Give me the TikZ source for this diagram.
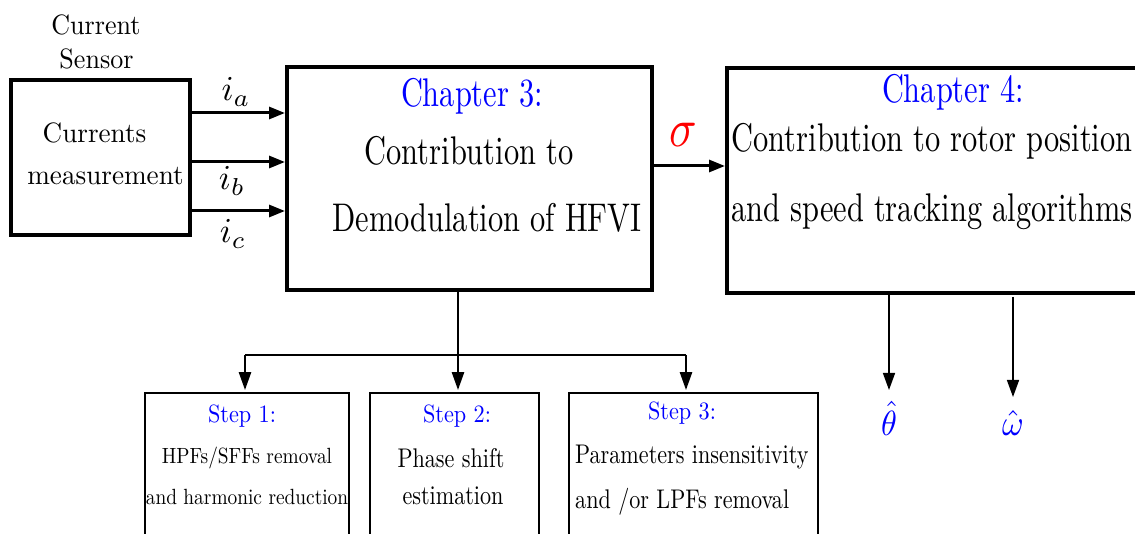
\documentclass[tikz,border=0pt]{standalone}
\usepackage{graphicx}
\usetikzlibrary{arrows.meta}
\newcommand\sz[3]{\scalebox{\fpeval{#1/10*#2}}[\fpeval{#1/10}]{#3}}
\newcommand\mth[3]{\scalebox{#1}[#2]{$#3$}}
\tikzset{
  bigbox/.style={draw, line width=4pt, inner sep=0pt},
  stepbox/.style={draw, line width=2.8pt, inner sep=0pt},
  lbl/.style={anchor=base, inner sep=0pt},
  arrA/.style={line width=3pt, -{Triangle[length=16pt,width=12pt]}},
  arrB/.style={line width=2.5pt, -{Triangle[length=18pt,width=12pt]}},
  arrC/.style={line width=1.5pt, -{Triangle[length=17pt,width=12pt]}},
  lineB/.style={line width=2.5pt}
}
\begin{document}
\begin{tikzpicture}[x=1pt,y=-1pt]
\useasboundingbox (0,0) rectangle (1135,534);
% boxes
\node[bigbox, minimum width=179pt, minimum height=155pt] (b1) at (100.5,157.5) {};
\node[bigbox, minimum width=365pt, minimum height=223pt] (ch3) at (469.5,178.5) {};
\node[bigbox, minimum width=423pt, minimum height=225pt] (ch4) at (938.5,180.5) {};
\node[stepbox, minimum width=204pt, minimum height=167pt] (s1) at (247,476.5) {};
\node[stepbox, minimum width=169pt, minimum height=167pt] (s2) at (454.5,476.5) {};
\node[stepbox, minimum width=249pt, minimum height=167pt] (s3) at (693.5,476.5) {};
% texts
\node[lbl] (cs1) at (96,35) {\sz{28}{0.93}{Current}};
\node[lbl] (cs2) at (96.5,69) {\sz{28}{0.93}{Sensor}};
\node[lbl] (m1) at (94.5,143) {\sz{28}{0.97}{Currents}};
\node[lbl] (m2) at (105.5,185) {\sz{28}{0.97}{measurement}};
\node[lbl] (ia) at (236,101) {\mth{3.5}{3.5}{i_a}};
\node[lbl] (ib) at (232,190) {\mth{3.5}{3.5}{i_b}};
\node[lbl] (ic) at (233,243) {\mth{3.5}{3.5}{i_c}};
\node[lbl, text=blue] (c3a) at (472,107) {\sz{40}{0.76}{Chapter 3:}};
\node[lbl] (c3b) at (469,165) {\sz{40}{0.76}{Contribution to}};
\node[lbl] (c3c) at (487,232) {\sz{40}{0.76}{Demodulation of HFVI}};
\node[lbl, text=red] (sig) at (683,147) {\mth{4.55}{5.4}{\sigma}};
\node[lbl, text=blue] (c4a) at (953,103) {\sz{40}{0.76}{Chapter 4:}};
\node[lbl] (c4b) at (932,152) {\sz{40}{0.76}{Contribution to rotor position}};
\node[lbl] (c4c) at (932,222) {\sz{40}{0.76}{and speed tracking algorithms}};
\node[lbl, text=blue] (t1a) at (242,422) {\sz{25}{0.89}{Step 1:}};
\node[lbl] (t1b) at (247,463) {\sz{22}{0.88}{HPFs/SFFs removal}};
\node[lbl] (t1c) at (247,504) {\sz{22}{0.88}{and harmonic reduction}};
\node[lbl, text=blue] (t2a) at (457,422) {\sz{25}{0.89}{Step 2:}};
\node[lbl] (t2b) at (451,467) {\sz{27}{0.82}{Phase shift}};
\node[lbl] (t2c) at (453,504) {\sz{27}{0.82}{estimation}};
\node[lbl, text=blue] (t3a) at (682,420) {\sz{25}{0.89}{Step 3:}};
\node[lbl, anchor=base west] (t3b) at (575,463) {\sz{27}{0.82}{Parameters insensitivity}};
\node[lbl, anchor=base west] (t3c) at (575,508) {\sz{27}{0.82}{and /or LPFs removal}};
\node[lbl, text=blue] (th) at (889,435) {\mth{3.2}{3.5}{\hat{\theta}}};
\node[lbl, text=blue] (om) at (1013,435) {\mth{3.3}{3.6}{\hat{\omega}}};
% connector coordinates
\coordinate (ya) at (0,113);
\coordinate (yb) at (0,162);
\coordinate (yc) at (0,211);
\coordinate (ys) at (0,166);
\coordinate (xm) at (458,0);
\coordinate (jl) at (245,355);
\coordinate (jr) at (686,355);
\coordinate (thend) at (889,390);
\coordinate (omend) at (1013,397);
% connectors
\draw[arrA] (b1.east |- ya) -- (ch3.west |- ya);
\draw[arrA] (b1.east |- yb) -- (ch3.west |- yb);
\draw[arrA] (b1.east |- yc) -- (ch3.west |- yc);
\draw[arrA] (ch3.east |- ys) -- (ch4.west |- ys);
\draw[arrB] (ch3.south -| xm) -- ([yshift=1.5pt]s2.north -| xm);
\draw[lineB] (jl) -- (jr);
\draw[arrB] (jl) -- ([yshift=1.5pt]s1.north -| jl);
\draw[arrB] (jr) -- ([yshift=1.5pt]s3.north -| jr);
\draw[arrC] (ch4.south -| thend) -- (thend);
\draw[arrC] ([yshift=-2pt]ch4.south -| omend) -- (omend);
\end{tikzpicture}
\end{document}
